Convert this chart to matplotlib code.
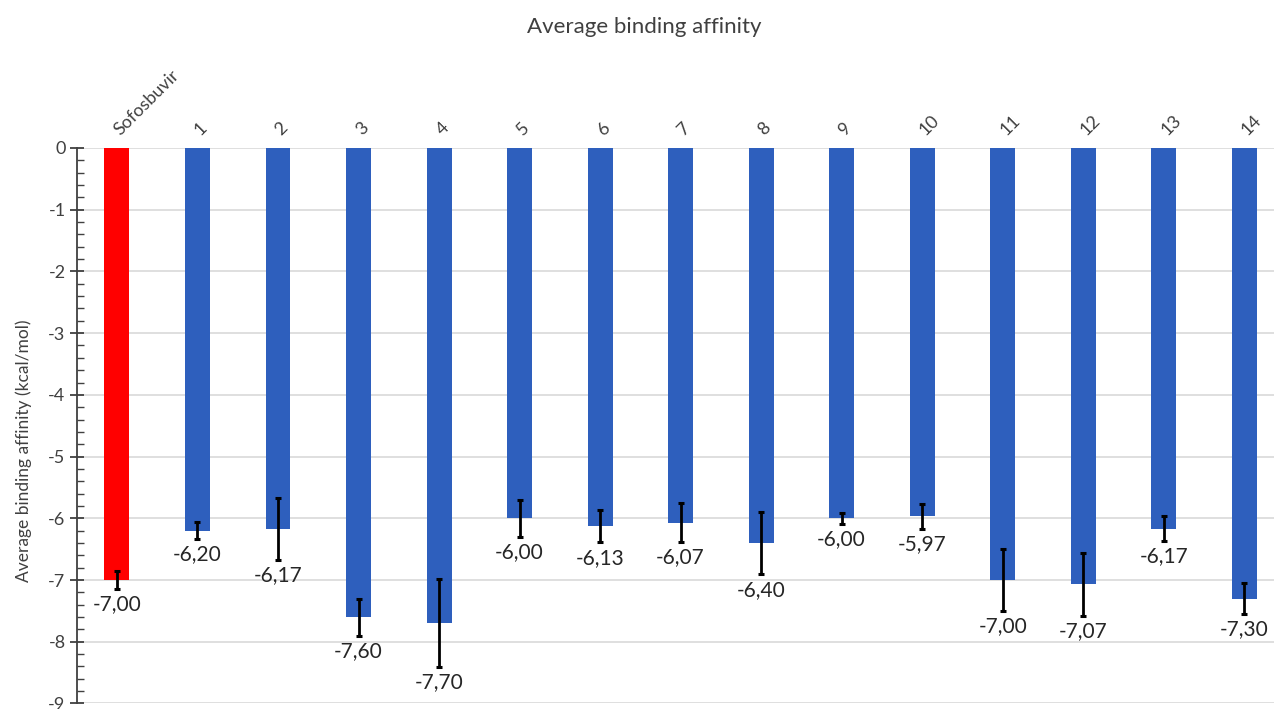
import matplotlib
matplotlib.use("Agg")
import matplotlib.pyplot as plt
from matplotlib.ticker import MultipleLocator

plt.rcParams['font.family'] = ['Lato', 'DejaVu Sans']

compounds = ["Sofosbuvir", "1", "2", "3", "4", "5", "6", "7", "8", "9", "10", "11", "12", "13", "14"]
affinity = [-7.00, -6.20, -6.17, -7.60, -7.70, -6.00, -6.13, -6.07, -6.40, -6.00, -5.97, -7.00, -7.07, -6.17, -7.30]
std_dev = [0.14, 0.14, 0.50, 0.30, 0.71, 0.30, 0.26, 0.31, 0.51, 0.09, 0.20, 0.50, 0.51, 0.20, 0.25]

ref_color = "#FF0000"
cmp_color = "#2E5FBD"
colors = [ref_color] + [cmp_color] * (len(compounds) - 1)

fig = plt.figure(figsize=(12.74, 7.09), dpi=100)
ax = fig.add_axes([0.0602, 0.0078, 0.948, 0.7835])

x = list(range(len(compounds)))
ax.bar(x, affinity, width=0.31, color=colors, zorder=2)
ax.errorbar(x, affinity, yerr=std_dev, fmt='none', ecolor='black',
            elinewidth=2, capsize=2.5, capthick=2.2, zorder=3)

for xi, v, e in zip(x, affinity, std_dev):
    ax.annotate(f"{v:.2f}".replace('.', ','), xy=(xi, v - e), xytext=(0, -11),
                textcoords='offset points', ha='center', va='center',
                fontsize=15, color='#262626', zorder=4)

ax.set_xlim(-0.5, len(compounds) - 0.5)
ax.set_ylim(-9, 0)
ax.yaxis.set_major_locator(MultipleLocator(1))
ax.yaxis.set_minor_locator(MultipleLocator(0.2))
ax.grid(axis='y', color='#D9D9D9', linewidth=1.2, zorder=0)
ax.set_axisbelow(True)

for s in ['top', 'right', 'bottom']:
    ax.spines[s].set_visible(False)
ax.spines['left'].set_color('#404040')
ax.spines['left'].set_linewidth(1.3)

ax.tick_params(axis='y', which='major', direction='inout', length=10, width=1.3,
               color='#404040', labelsize=13, labelcolor='#404040', pad=3)
ax.tick_params(axis='y', which='minor', direction='in', length=5, width=1.0,
               color='#404040')
ax.set_yticklabels([str(int(t)) for t in ax.get_yticks()])

ax.xaxis.tick_top()
ax.set_xticks(x)
ax.set_xticklabels(compounds, rotation=45, ha='left', va='center',
                   rotation_mode='anchor', fontsize=13, color='#404040')
ax.tick_params(axis='x', which='both', length=0, pad=11)

ax.set_ylabel("Average binding affinity (kcal/mol)", fontsize=12.5, color='#404040')
ax.yaxis.set_label_coords(-0.037, 0.455)

fig.text(0.506, 0.962, "Average binding affinity", ha='center', va='center',
         fontsize=16, color='#404040')

fig.savefig("out.png", dpi=100)
